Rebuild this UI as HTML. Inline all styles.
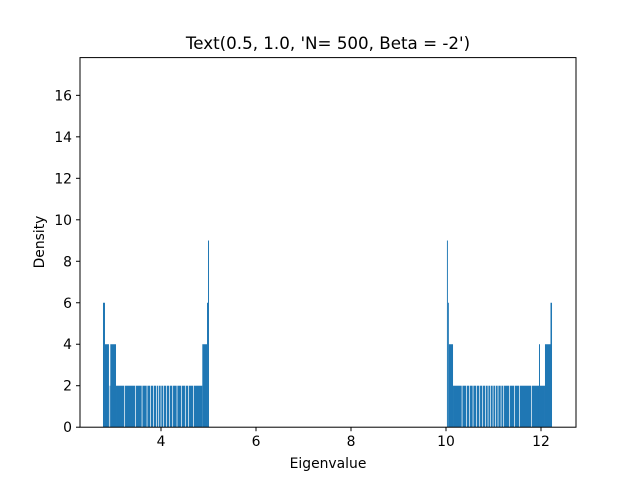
<!DOCTYPE html>
<html><head><meta charset="utf-8"><style>
body{margin:0;background:#fff}
svg text{font-family:"DejaVu Sans","Liberation Sans",sans-serif;fill:#000}
</style></head><body>
<svg id="chart" width="640" height="480">
<text x="328" y="49" font-size="16.7" text-anchor="middle">Text(0.5, 1.0, 'N= 500, Beta = -2')</text>
<g id="bars"></g>
<g id="gaps"></g>
<rect x="80" y="57.6" width="496" height="369.6" fill="none" stroke="#000" stroke-width="1"/>
<g id="xt"></g>
<g id="yt"></g>
<text x="328" y="468" font-size="13.9" text-anchor="middle">Eigenvalue</text>
<text x="44" y="242" font-size="13.9" text-anchor="middle" transform="rotate(-90 44 242)">Density</text>
</svg>
<script>
const segStart=[2.779,2.821,2.905,2.933,3.053,3.074,4.870,4.969,4.990, 10.020,10.040,10.060,10.148,11.958,11.979,12.084,12.200];
const segEnd  =[2.821,2.905,2.933,3.053,3.074,4.870,4.969,4.990,5.011, 10.040,10.060,10.148,11.958,11.979,12.084,12.200,12.232];
const segHeight=[6,4,2,4,2,2,4,6,9, 9,6,4,2,4,2,4,6];
const emptyBins=[2.905,3.228,3.453,3.594,3.699,3.769,3.838,3.895,3.944,3.993,4.049,4.106,4.169,4.239,4.330,4.421,4.505,4.575,4.680,
10.331,10.422,10.491,10.562,10.632,10.702,10.765,10.822,10.878,10.926,10.983,11.032,11.088,11.152,11.207,11.333,11.432,11.537,11.790];
const xTicks=[4,6,8,10,12];
const yTicks=[0,2,4,6,8,10,12,14,16];
const X0=80,X1=576,Y0=427.2,Y1=57.6,xmin=2.295,xmax=12.737,ymin=0,ymax=17.82;
const sx=v=>X0+(v-xmin)/(xmax-xmin)*(X1-X0);
const sy=v=>Y0-(v-ymin)/(ymax-ymin)*(Y0-Y1);
const NS="http://www.w3.org/2000/svg";
const bars=document.getElementById('bars');
segStart.forEach((s,i)=>{
  const r=document.createElementNS(NS,'rect');
  
  
  r.setAttribute('x',sx(s));r.setAttribute('width',Math.max(0.6,sx(segEnd[i])-sx(s)));
  r.setAttribute('y',sy(segHeight[i]));r.setAttribute('height',sy(0)-sy(segHeight[i]));
  r.setAttribute('fill','#1f77b4');bars.appendChild(r);
});
const gaps=document.getElementById('gaps');
emptyBins.forEach(g=>{
  const r=document.createElementNS(NS,'rect');
  
  
  r.setAttribute('x',sx(g));r.setAttribute('width',0.7);
  r.setAttribute('y',sy(4));r.setAttribute('height',sy(0)-sy(4));
  r.setAttribute('fill','#fff');gaps.appendChild(r);
});
const xt=document.getElementById('xt');
xTicks.forEach(t=>{
  const l=document.createElementNS(NS,'line');
  
  
  l.setAttribute('x1',sx(t));l.setAttribute('x2',sx(t));l.setAttribute('y1',Y0);l.setAttribute('y2',Y0+4);
  l.setAttribute('stroke','#000');xt.appendChild(l);
  const tx=document.createElementNS(NS,'text');
  
  
  tx.setAttribute('x',sx(t));tx.setAttribute('y',Y0+19);tx.setAttribute('font-size','13.9');
  tx.setAttribute('text-anchor','middle');tx.textContent=t;xt.appendChild(tx);
});
const yt=document.getElementById('yt');
yTicks.forEach(t=>{
  const l=document.createElementNS(NS,'line');
  
  
  l.setAttribute('x1',X0-4);l.setAttribute('x2',X0);l.setAttribute('y1',sy(t));l.setAttribute('y2',sy(t));
  l.setAttribute('stroke','#000');yt.appendChild(l);
  const tx=document.createElementNS(NS,'text');
  
  
  tx.setAttribute('x',X0-8);tx.setAttribute('y',sy(t)+5);tx.setAttribute('font-size','13.9');
  tx.setAttribute('text-anchor','end');tx.textContent=t;yt.appendChild(tx);
});
</script>
</body></html>
